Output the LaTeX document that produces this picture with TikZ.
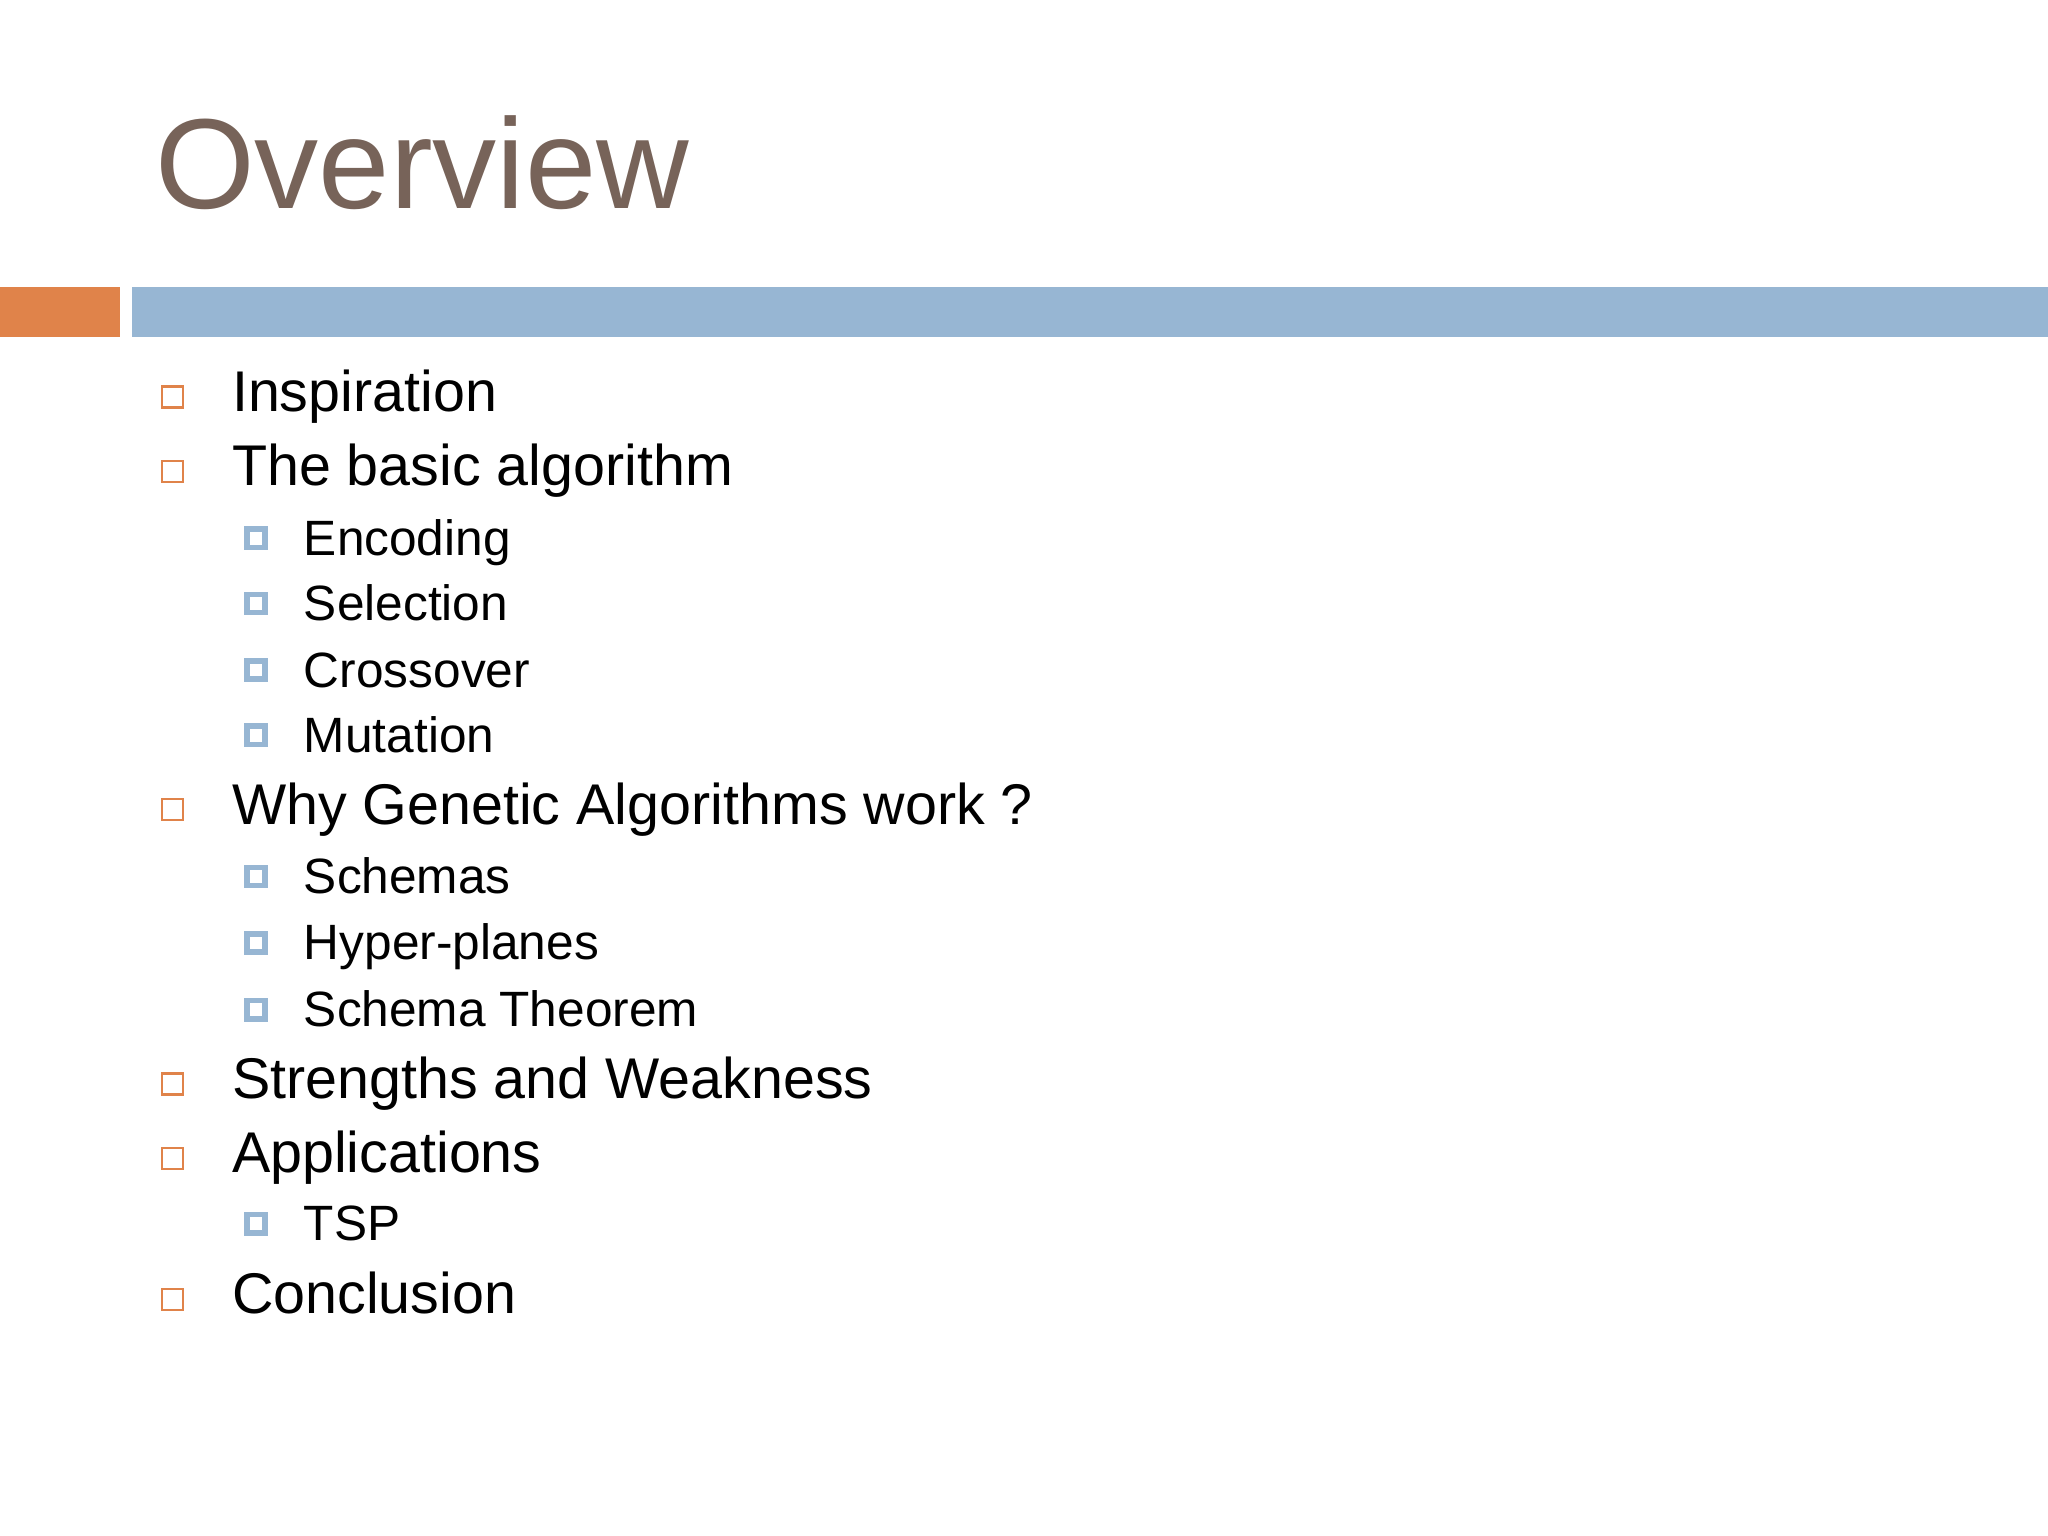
\documentclass[tikz,border=0pt]{standalone}
\usepackage{fontspec}
\setmainfont{Liberation Sans}
\definecolor{titlec}{HTML}{776359}
\definecolor{orng}{HTML}{E0834A}
\definecolor{blu}{HTML}{97B6D3}
\begin{document}
\begin{tikzpicture}[x=0.01cm,y=-0.01cm,
  lone/.style={anchor=base west,inner sep=0pt,font=\fontsize{12.5}{14}\selectfont},
  ltwo/.style={anchor=base west,inner sep=0pt,font=\fontsize{10.8}{13}\selectfont},
  bone/.style={draw=orng,line width=0.5pt,minimum size=0.16cm,inner sep=0pt},
  btwo/.style={draw=blu,line width=1.2pt,fill=white,minimum size=0.14cm,inner sep=0pt}]
\useasboundingbox (0,0) rectangle (1568,1176);
\node[anchor=base west,inner sep=0pt,text=titlec,font=\fontsize{27.9}{32}\selectfont] (title) at (118,160) {Overview};
\fill[orng] (0,220) rectangle (92,258);
\fill[blu] (101,220) rectangle (1568,258);
\foreach \n/\y/\t in {a/315/Inspiration,b/372/The basic algorithm,c/631/Why Genetic Algorithms work ?,d/841/Strengths and Weakness,e/898/Applications,f/1006/Conclusion}{
  \node[bone] (b\n) at (132,\y-11) {};
  \node[lone] (t\n) at (177,\y) {\t};
}
\foreach \n/\y/\t in {a/425/Encoding,b/475/Selection,c/526/Crossover,d/576/Mutation,e/684/Schemas,f/735/Hyper-planes,g/786/Schema Theorem,h/950/TSP}{
  \node[btwo] (s\n) at (196,\y-13) {};
  \node[ltwo] (u\n) at (232,\y) {\t};
}
\end{tikzpicture}
\end{document}
